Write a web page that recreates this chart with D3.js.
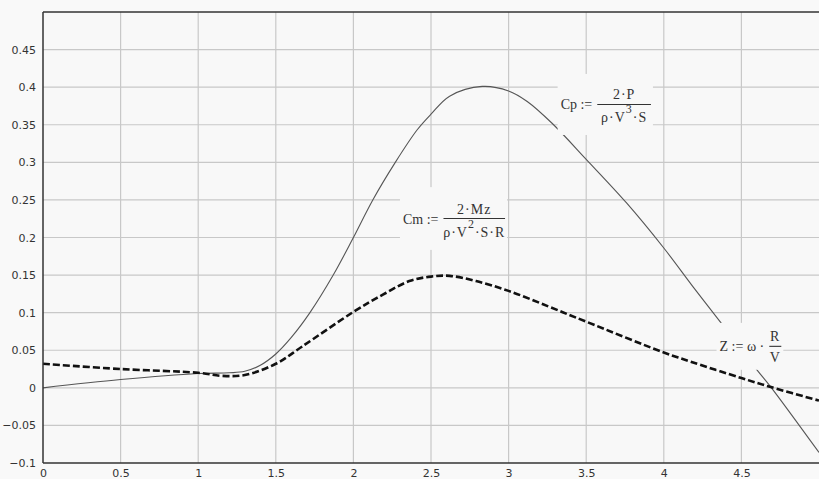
<!DOCTYPE html>
<html>
<head>
<meta charset="utf-8">
<script src="https://cdn.jsdelivr.net/npm/d3@7"></script>
<style>
  html, body { margin: 0; padding: 0; background: #f9f9f9; }
  svg { display: block; }
  .tick text { font-family: "DejaVu Sans", sans-serif; font-size: 11px; fill: #333; }
  .formula text { font-family: "Liberation Serif", "Times New Roman", serif; font-size: 14px; fill: #333; }
</style>
</head>
<body>
<div id="chart"></div>
<script>
// Cp curve (thin solid)
const cpX = [0, 0.5, 1.0, 1.2, 1.3, 1.4, 1.5, 1.6, 1.72, 1.87, 2.0, 2.125, 2.27, 2.41, 2.5, 2.62, 2.83, 3.0, 3.12, 3.28, 3.5, 3.76, 4.0, 4.19, 4.37, 4.6, 4.69, 5.0];
const cpY = [0, 0.011, 0.019, 0.02, 0.022, 0.03, 0.045, 0.067, 0.1, 0.15, 0.2, 0.25, 0.3, 0.343, 0.364, 0.388, 0.401, 0.395, 0.381, 0.352, 0.304, 0.246, 0.186, 0.134, 0.086, 0.024, 0.001, -0.086];

// Cm curve (thick dashed)
const cmX = [0, 0.5, 1.0, 1.15, 1.3, 1.5, 1.67, 2.0, 2.19, 2.36, 2.5, 2.62, 2.79, 3.0, 3.26, 3.5, 4.0, 4.17, 4.5, 4.69, 5.0];
const cmY = [0.032, 0.025, 0.02, 0.016, 0.017, 0.032, 0.055, 0.101, 0.124, 0.142, 0.148, 0.149, 0.142, 0.129, 0.108, 0.088, 0.047, 0.035, 0.013, 0.001, -0.017];

const xTicks = [0, 0.5, 1, 1.5, 2, 2.5, 3, 3.5, 4, 4.5];
const yTicks = [-0.1, -0.05, 0, 0.05, 0.1, 0.15, 0.2, 0.25, 0.3, 0.35, 0.4, 0.45];
const yGrid = [-0.05, 0, 0.05, 0.1, 0.15, 0.2, 0.25, 0.3, 0.35, 0.4, 0.45];
const xGrid = [0.5, 1, 1.5, 2, 2.5, 3, 3.5, 4, 4.5];

let margin = {top: 12, right: 0, bottom: 16, left: 43},
  W = 819, H = 479,
  width = W - margin.left - margin.right,
  height = H - margin.top - margin.bottom;

let sx = d3.scaleLinear().domain([0, 5]).range([0, width]);
let sy = d3.scaleLinear().domain([-0.1, 0.5]).range([height, 0]);

let svg = d3.select('#chart').append('svg')
  .attr('width', W)
  .attr('height', H);

let g = svg.append('g')
  .attr('transform', `translate(${margin.left},${margin.top})`);

g.append('rect')
  .attr('width', width)
  .attr('height', height)
  .attr('fill', '#f8f8f8');

// grid
g.append('g').selectAll('line').data(yGrid).join('line')
  .attr('x1', 0).attr('x2', width)
  .attr('y1', d => sy(d)).attr('y2', d => sy(d))
  .attr('stroke', '#c8c8c8').attr('stroke-width', 1.2);

g.append('g').selectAll('line').data(xGrid).join('line')
  .attr('x1', d => sx(d)).attr('x2', d => sx(d))
  .attr('y1', 0).attr('y2', height)
  .attr('stroke', '#c8c8c8').attr('stroke-width', 1.2);

// curves
let line = d3.line().x(d => sx(d[0])).y(d => sy(d[1])).curve(d3.curveCatmullRom.alpha(0.5));

g.append('path')
  .datum(d3.zip(cpX, cpY))
  .attr('d', line)
  .attr('fill', 'none')
  .attr('stroke', '#555')
  .attr('stroke-width', 1.1);

g.append('path')
  .datum(d3.zip(cmX, cmY))
  .attr('d', line)
  .attr('fill', 'none')
  .attr('stroke', '#111')
  .attr('stroke-width', 2.6)
  .attr('stroke-dasharray', '7,3');

// formula labels, boxes given in data units
function formula(box, lhs, num, den, sup, den2) {
  let x0 = sx(box.x0), x1 = sx(box.x1), y0 = sy(box.y0), y1 = sy(box.y1);
  let f = g.append('g').attr('class', 'formula');
  f.append('rect')
    .attr('x', x0).attr('y', y0)
    .attr('width', x1 - x0).attr('height', y1 - y0)
    .attr('fill', '#f8f8f8');
  let cy = (y0 + y1) / 2;
  let t = f.append('text')
    .attr('x', x0 + 3).attr('y', cy + 5)
    .text(lhs);
  let lw = t.node().getComputedTextLength();
  let fx0 = x0 + 3 + lw + 5, fx1 = x1 - 2;
  f.append('line')
    .attr('x1', fx0).attr('x2', fx1)
    .attr('y1', cy).attr('y2', cy)
    .attr('stroke', '#333').attr('stroke-width', 1.1);
  let fc = (fx0 + fx1) / 2;
  f.append('text')
    .attr('x', fc).attr('y', cy - 5)
    .attr('text-anchor', 'middle')
    .style('letter-spacing', '1px')
    .text(num);
  let d = f.append('text')
    .attr('x', fc).attr('y', cy + 16 + (sup ? 2 : 0))
    .attr('text-anchor', 'middle')
    .style('letter-spacing', '1px');
  d.append('tspan').text(den);
  if (sup) {
    d.append('tspan').attr('dy', -9).style('font-size', '12px').text(sup);
    d.append('tspan').attr('dy', 9).text(den2);
  }
}

formula({x0: 3.316, x1: 3.93, y0: 0.4176, y1: 0.3364}, 'Cp :=', '2·P', 'ρ·V', '3', '·S');
formula({x0: 2.30, x1: 2.99, y0: 0.267, y1: 0.1835}, 'Cm :=', '2·Mz', 'ρ·V', '2', '·S·R');
formula({x0: 4.34, x1: 4.77, y0: 0.0864, y1: 0.024}, 'Z := ω ·', 'R', 'V', null, null);

// axes frame
g.append('line').attr('x1', 0).attr('x2', width).attr('y1', 0).attr('y2', 0)
  .attr('stroke', '#333').attr('stroke-width', 1.5);
g.append('line').attr('x1', 0).attr('x2', width).attr('y1', height).attr('y2', height)
  .attr('stroke', '#333').attr('stroke-width', 1.5);
g.append('line').attr('x1', 0).attr('x2', 0).attr('y1', 0).attr('y2', height)
  .attr('stroke', '#333').attr('stroke-width', 1.5);

let yAxis = d3.axisLeft(sy).tickValues(yTicks).tickSize(0).tickPadding(7)
  .tickFormat(d => d3.format('')(+d.toFixed(2)));
g.append('g').attr('class', 'y axis').call(yAxis)
  .call(a => a.select('.domain').remove());

let xAxis = d3.axisBottom(sx).tickValues(xTicks).tickSize(0).tickPadding(6)
  .tickFormat(d => String(d));
g.append('g').attr('class', 'x axis')
  .attr('transform', `translate(0,${height})`)
  .call(xAxis)
  .call(a => a.select('.domain').remove());
</script>
</body>
</html>
